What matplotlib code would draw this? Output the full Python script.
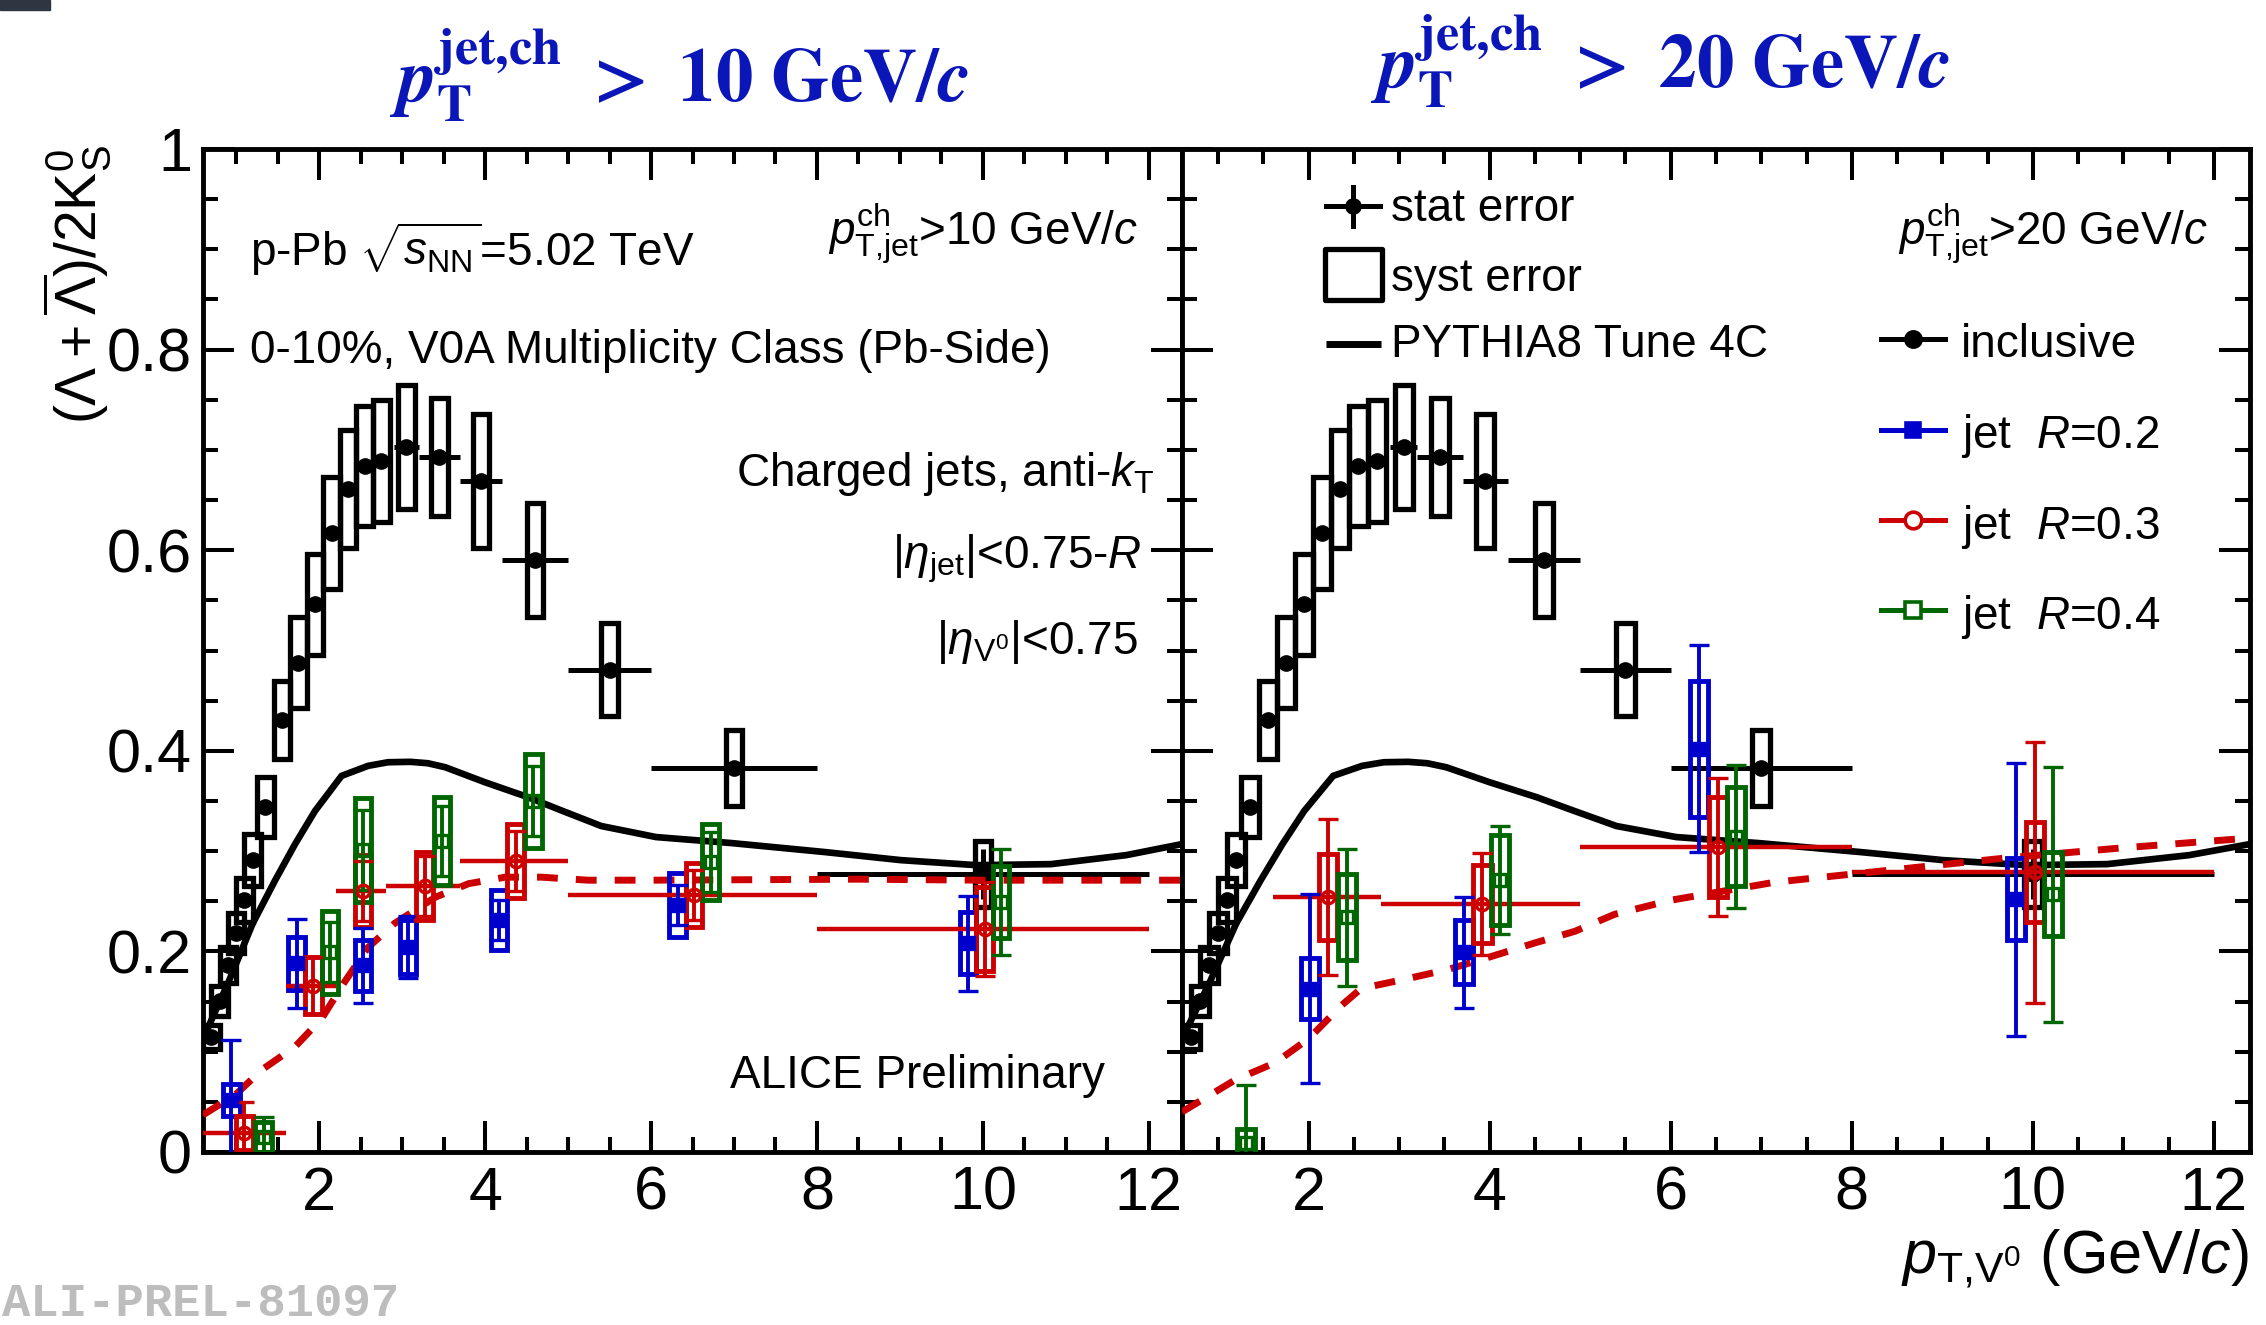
import matplotlib
matplotlib.use("Agg")
import matplotlib.pyplot as plt
from matplotlib.patches import Rectangle
from matplotlib.ticker import MultipleLocator

# ---- inclusive (Lambda+antiLambda)/2K0S, 0-10% V0A, same in both panels
incl_x = [0.7, 0.8, 0.9, 1.0, 1.1, 1.2, 1.35, 1.55, 1.75, 1.95, 2.15, 2.35, 2.55, 2.75,
          3.05, 3.45, 3.95, 4.6, 5.5, 7.0, 10.0]
incl_xerr = [0.05, 0.05, 0.05, 0.05, 0.05, 0.05, 0.1, 0.1, 0.1, 0.1, 0.1, 0.1, 0.1, 0.1,
             0.15, 0.25, 0.25, 0.4, 0.5, 1.0, 2.0]
incl_y = [0.115, 0.151, 0.186, 0.218, 0.251, 0.291, 0.344, 0.431, 0.488, 0.546, 0.617,
          0.661, 0.684, 0.689, 0.703, 0.693, 0.669, 0.590, 0.481, 0.383, 0.277]
incl_stat = [0.005] * 20 + [0.025]
incl_syst = [0.012, 0.015, 0.018, 0.020, 0.022, 0.026, 0.030, 0.039, 0.045, 0.050, 0.056,
             0.059, 0.060, 0.061, 0.062, 0.059, 0.067, 0.057, 0.046, 0.038, 0.033]

# ---- PYTHIA8 Tune 4C inclusive (solid black)
pythia_x = [0.6, 0.9, 1.2, 1.47, 1.71, 1.95, 2.27, 2.59, 2.83, 3.1, 3.31, 3.52, 4.0, 4.52,
            4.92, 5.4, 6.06, 6.97, 8.1, 9.01, 9.92, 10.82, 11.73, 12.4]
pythia_y = [0.113, 0.168, 0.228, 0.271, 0.307, 0.340, 0.375, 0.385, 0.3886, 0.389, 0.3876,
            0.3836, 0.3686, 0.3537, 0.3405, 0.325, 0.314, 0.308, 0.299, 0.291, 0.286,
            0.287, 0.296, 0.307]

# ---- PYTHIA8 in jets (dashed red)
pyjet10_x = [0.6, 0.99, 1.31, 1.71, 2.03, 2.31, 2.59, 2.91, 3.4, 3.8, 4.24, 4.68, 5.24,
             6.0, 8.5, 10.0, 12.4]
pyjet10_y = [0.037, 0.057, 0.082, 0.105, 0.133, 0.170, 0.204, 0.228, 0.254, 0.2675, 0.274,
             0.274, 0.271, 0.271, 0.272, 0.271, 0.271]
pyjet20_x = [0.6, 1.19, 1.63, 2.0, 2.36, 2.58, 3.1, 3.54, 4.02, 4.5, 4.94, 5.38, 6.0,
             7.15, 8.42, 9.69, 10.96, 12.4]
pyjet20_y = [0.040, 0.072, 0.089, 0.113, 0.146, 0.163, 0.173, 0.182, 0.195, 0.2085, 0.220,
             0.237, 0.251, 0.269, 0.281, 0.293, 0.303, 0.313]

# ---- jets pT,jet > 10 GeV/c
j10_r02_x = [0.94, 1.73, 2.53, 3.07, 4.17, 6.32, 9.82]
j10_r02_y = [0.052, 0.188, 0.186, 0.204, 0.231, 0.246, 0.208]
j10_r02_stat = [0.060, 0.044, 0.037, 0.031, 0.020, 0.020, 0.047]
j10_r02_syst = [0.016, 0.026, 0.025, 0.027, 0.030, 0.032, 0.031]

j10_r03_x = [1.1, 1.93, 2.53, 3.27, 4.37, 6.52, 10.02]
j10_r03_y = [0.019, 0.166, 0.260, 0.265, 0.290, 0.2565, 0.222]
j10_r03_stat = [0.031, 0.028, 0.030, 0.030, 0.030, 0.025, 0.047]
j10_r03_syst = [0.017, 0.028, 0.036, 0.034, 0.037, 0.032, 0.042]
j10_r03_lo = [0.6, 1.6, 2.2, 2.8, 3.7, 5.0, 8.0]
j10_r03_hi = [1.6, 2.2, 2.8, 3.7, 5.0, 8.0, 12.0]

j10_r04_x = [1.33, 2.13, 2.53, 3.48, 4.58, 6.72, 10.22]
j10_r04_y = [0.015, 0.199, 0.301, 0.310, 0.350, 0.289, 0.249]
j10_r04_stat = [0.020, 0.030, 0.040, 0.035, 0.035, 0.030, 0.053]
j10_r04_syst = [0.015, 0.041, 0.052, 0.044, 0.047, 0.038, 0.036]

# ---- jets pT,jet > 20 GeV/c
j20_r02_x = [2.01, 3.72, 6.31, 9.81]
j20_r02_y = [0.163, 0.199, 0.402, 0.252]
j20_r02_stat = [0.094, 0.055, 0.103, 0.136]
j20_r02_syst = [0.030, 0.032, 0.068, 0.041]

j20_r03_x = [2.21, 3.92, 6.52, 10.02]
j20_r03_y = [0.254, 0.247, 0.304, 0.279]
j20_r03_stat = [0.078, 0.051, 0.069, 0.130]
j20_r03_syst = [0.043, 0.039, 0.050, 0.050]
j20_r03_lo = [1.6, 2.8, 5.0, 8.0]
j20_r03_hi = [2.8, 5.0, 8.0, 12.0]

j20_r04_x = [1.31, 2.42, 4.11, 6.72, 10.22]
j20_r04_y = [0.009, 0.234, 0.271, 0.3145, 0.257]
j20_r04_stat = [0.058, 0.068, 0.054, 0.071, 0.127]
j20_r04_syst = [0.014, 0.043, 0.045, 0.049, 0.042]

yticks = [0, 0.2, 0.4, 0.6, 0.8, 1.0]
yticklabels = ["0", "0.2", "0.4", "0.6", "0.8", "1"]

BLUE = "#0000cc"
RED = "#cc0000"
GREEN = "#006600"
TITLE_BLUE = "#0a16b8"

plt.rcParams["font.family"] = ["Liberation Sans", "DejaVu Sans"]
plt.rcParams["mathtext.fontset"] = "custom"
plt.rcParams["mathtext.rm"] = "Liberation Sans"
plt.rcParams["mathtext.it"] = "Liberation Sans:italic"
plt.rcParams["mathtext.bf"] = "Liberation Sans:bold"

TXT = 33


def _syst(ax, x, y, s, color, lw, z):
    for xi, yi, si in zip(x, y, s):
        ax.add_patch(Rectangle((xi - 0.1, yi - si), 0.2, 2 * si, fill=False,
                               ec=color, lw=lw, zorder=z))


def _jet(ax, x, y, stat, syst, color, marker, mfc, ms, z):
    _syst(ax, x, y, syst, color, 3.5, z)
    ax.errorbar(x, y, yerr=stat, fmt=marker, color=color, mfc=mfc, mec=color, ms=ms,
                mew=2.4, elinewidth=2.8, capsize=7, capthick=3.0, zorder=z + 0.1)


def draw_panel(ax, pyjet_x, pyjet_y, r02, r03, r04):
    ax.set_xlim(0.6, 12.4)
    ax.set_ylim(0, 1)

    # inclusive
    _syst(ax, incl_x, incl_y, incl_syst, "black", 3.8, 3)
    ax.errorbar(incl_x, incl_y, xerr=incl_xerr, yerr=incl_stat, fmt="o", color="black",
                ms=11, elinewidth=3.6, capsize=0, zorder=3.1)

    # model curves
    ax.plot(pythia_x, pythia_y, color="black", lw=4.8, zorder=4, solid_capstyle="butt")
    ax.plot(pyjet_x, pyjet_y, color=RED, lw=5.0, ls=(0, (3, 2.6)), zorder=4)

    # jets
    _jet(ax, *r02, BLUE, "s", BLUE, 8, 5)
    x, y, stat, syst, lo, hi = r03
    ax.hlines(y, lo, hi, color=RED, lw=3.2, zorder=5)
    _jet(ax, x, y, stat, syst, RED, "o", "none", 9, 5)
    _jet(ax, *r04, GREEN, "s", "none", 8.5, 5)

    ax.xaxis.set_major_locator(MultipleLocator(2))
    ax.xaxis.set_minor_locator(MultipleLocator(0.5))
    ax.set_yticks(yticks)
    ax.yaxis.set_minor_locator(MultipleLocator(0.05))
    ax.tick_params(which="both", direction="in", top=True, right=True, width=2.9,
                   labelsize=44)
    ax.tick_params(which="major", length=22)
    ax.tick_params(which="minor", length=11)
    ax.tick_params(axis="x", pad=10)
    ax.tick_params(axis="y", pad=8)
    for sp in ax.spines.values():
        sp.set_linewidth(3.5)


def main():
    fig = plt.figure(figsize=(22.66, 13.25), dpi=100)
    axl = fig.add_axes([203 / 2266, 173 / 1325, 979 / 2266, 1003 / 1325])
    axr = fig.add_axes([1182 / 2266, 173 / 1325, 1068 / 2266, 1003 / 1325])

    draw_panel(axl, pyjet10_x, pyjet10_y,
               (j10_r02_x, j10_r02_y, j10_r02_stat, j10_r02_syst),
               (j10_r03_x, j10_r03_y, j10_r03_stat, j10_r03_syst, j10_r03_lo, j10_r03_hi),
               (j10_r04_x, j10_r04_y, j10_r04_stat, j10_r04_syst))
    draw_panel(axr, pyjet20_x, pyjet20_y,
               (j20_r02_x, j20_r02_y, j20_r02_stat, j20_r02_syst),
               (j20_r03_x, j20_r03_y, j20_r03_stat, j20_r03_syst, j20_r03_lo, j20_r03_hi),
               (j20_r04_x, j20_r04_y, j20_r04_stat, j20_r04_syst))
    axl.set_yticklabels(yticklabels)
    axr.tick_params(labelleft=False)

    # left panel labels
    t = axl.transAxes
    axl.text(0.0485, 0.8834, r"p-Pb $\sqrt{s_{\mathrm{NN}}}$=5.02 TeV", transform=t,
             fontsize=TXT, va="baseline")
    axl.text(0.0485, 0.7862, "0-10%, V0A Multiplicity Class (Pb-Side)", transform=t,
             fontsize=TXT, va="baseline")
    axl.text(0.955, 0.9045, r"$p^{\mathrm{ch}}_{\mathrm{T{,}jet}}$>10 GeV/$c$", transform=t,
             fontsize=TXT, va="baseline", ha="right")
    axl.text(0.972, 0.6641, r"Charged jets, anti-$k_{\mathrm{T}}$", transform=t,
             fontsize=TXT, va="baseline", ha="right")
    axl.text(0.9584, 0.582, r"|$\eta_{\mathrm{jet}}$|<0.75-$R$", transform=t,
             fontsize=TXT, va="baseline", ha="right")
    axl.text(0.955, 0.497, r"|$\eta_{\mathrm{V^{0}}}$|<0.75", transform=t,
             fontsize=TXT, va="baseline", ha="right")
    axl.text(0.538, 0.0635, "ALICE Preliminary", transform=t, fontsize=TXT,
             va="baseline")

    # right panel labels and legends
    t = axr.transAxes
    axr.text(0.961, 0.9045, r"$p^{\mathrm{ch}}_{\mathrm{T{,}jet}}$>20 GeV/$c$", transform=t,
             fontsize=TXT, va="baseline", ha="right")
    axr.plot([0.1347, 0.1853], [0.9427, 0.9427], color="black", lw=3.6, transform=t)
    axr.plot([0.160, 0.160], [0.9233, 0.9621], color="black", lw=3.6, transform=t)
    axr.plot([0.160], [0.9427], "o", color="black", ms=11, transform=t)
    axr.add_patch(Rectangle((0.1343, 0.8492), 0.0532, 0.0507, fill=False, ec="black",
                            lw=3.8, transform=t, joinstyle="round"))
    axr.plot([0.135, 0.1865], [0.8053, 0.8053], color="black", lw=5, transform=t,
             solid_capstyle="butt")
    axr.text(0.1959, 0.928, "stat error", transform=t, fontsize=TXT, va="baseline")
    axr.text(0.1959, 0.8587, "syst error", transform=t, fontsize=TXT, va="baseline")
    axr.text(0.1959, 0.793, "PYTHIA8 Tune 4C", transform=t, fontsize=TXT, va="baseline")

    leg = [("inclusive", 0.811, 0.793, "black", "o", "black", 11),
           (r"jet  $R$=0.2", 0.7194, 0.7015, BLUE, "s", BLUE, 10),
           (r"jet  $R$=0.3", 0.6297, 0.6115, RED, "o", "white", 12),
           (r"jet  $R$=0.4", 0.5401, 0.5217, GREEN, "s", "white", 12)]
    for label, ym, yt, c, m, mfc, ms in leg:
        axr.plot([0.6543, 0.7146], [ym, ym], color=c, lw=3.6, transform=t)
        axr.plot([0.6845], [ym], m, color=c, mfc=mfc, mec=c, mew=2.6, ms=ms, transform=t)
        axr.text(0.7296, yt, label, transform=t, fontsize=TXT, va="baseline")

    # axis titles
    fig.text(0.034, 0.891, r"$(\Lambda+\overline{\Lambda})/2\mathrm{K}^{0}_{\mathrm{S}}$",
             rotation=90, ha="center", va="top", fontsize=41)
    fig.text(0.9925, 0.0385, r"$p_{\mathrm{T{,}V^{0}}}$ (GeV/$c$)", ha="right",
             va="baseline", fontsize=44)

    # panel headers
    fig.text(0.2997, 0.9232,
             r"$\mathbfit{p}_{\mathbf{T}}^{\mathbf{jet{,}ch}}\ \mathbf{>}\ \mathbf{10\ GeV/}\mathbfit{c}$",
             ha="center", va="baseline", fontsize=54, color=TITLE_BLUE,
             math_fontfamily="stix")
    fig.text(0.7327, 0.9336,
             r"$\mathbfit{p}_{\mathbf{T}}^{\mathbf{jet{,}ch}}\ \mathbf{>}\ \mathbf{20\ GeV/}\mathbfit{c}$",
             ha="center", va="baseline", fontsize=54, color=TITLE_BLUE,
             math_fontfamily="stix")

    fig.text(0.001, 0.007, "ALI-PREL-81097", family="Liberation Mono", weight="bold",
             fontsize=34, color="#bdbdbd", va="baseline")
    fig.patches.append(Rectangle((0, 1 - 10 / 1325), 50 / 2266, 10 / 1325,
                                 transform=fig.transFigure, color="#2e3641"))

    fig.savefig("out.png", dpi=100)


if __name__ == "__main__":
    main()
